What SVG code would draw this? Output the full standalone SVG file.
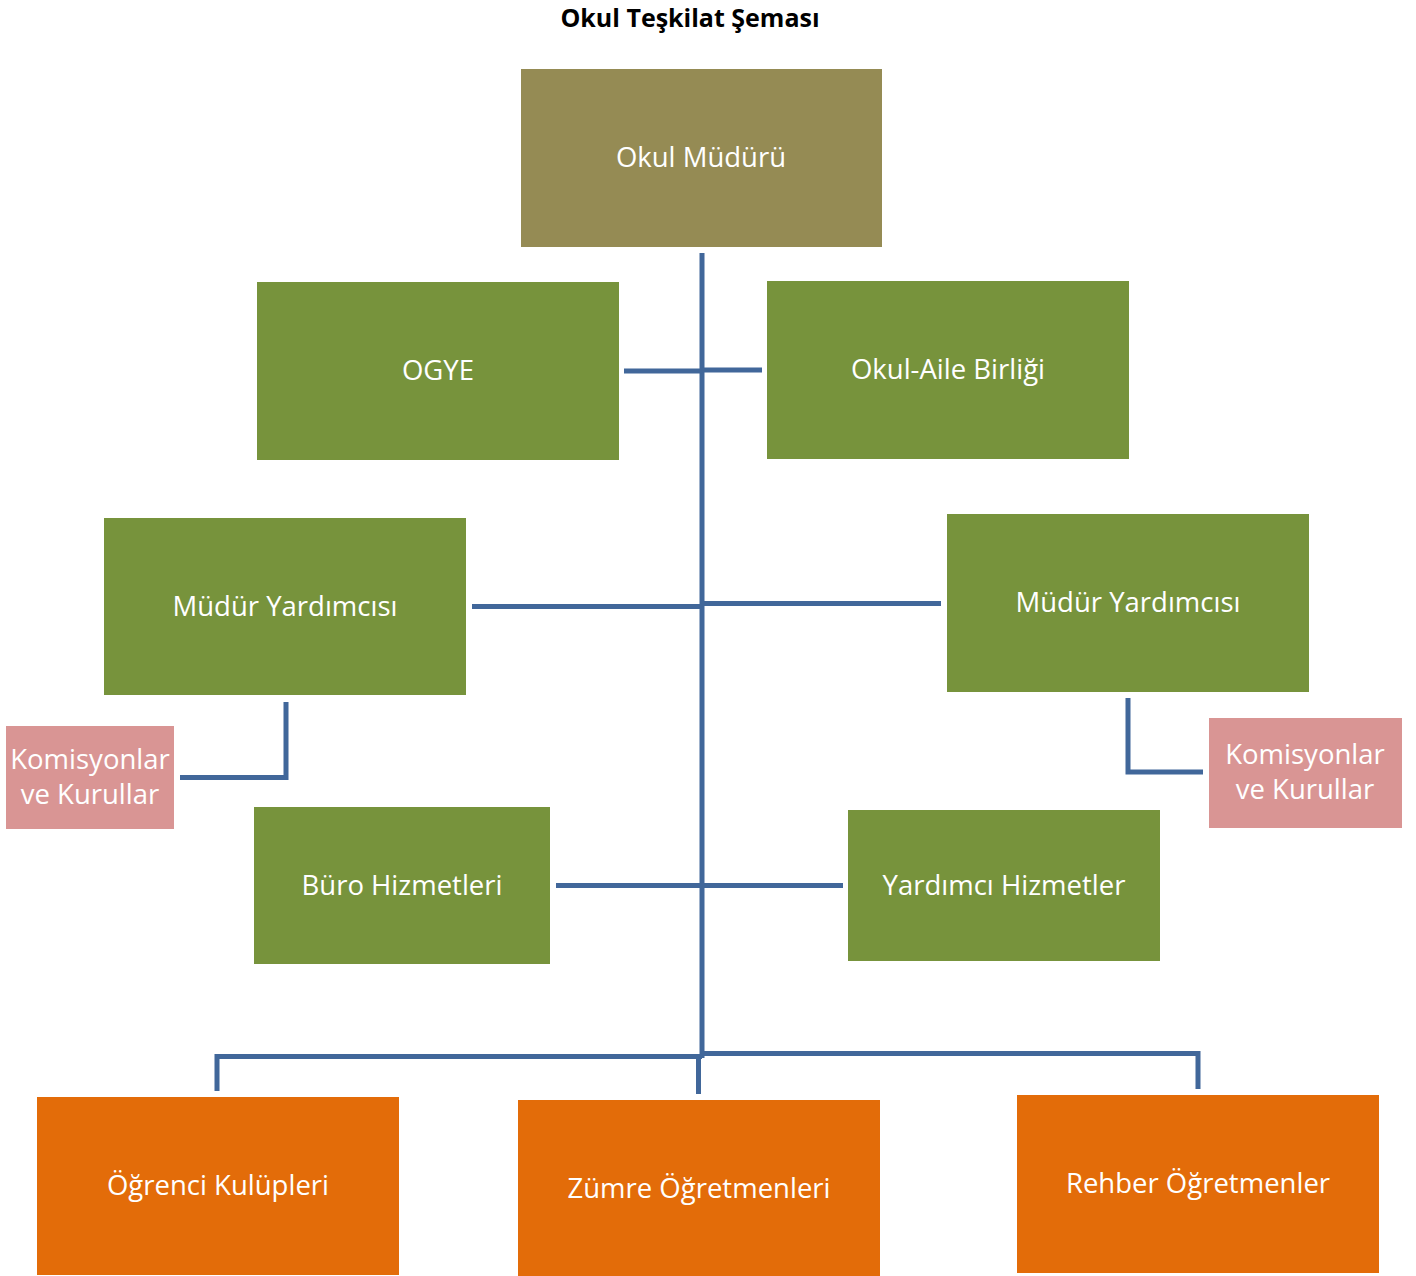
<svg xmlns="http://www.w3.org/2000/svg" width="1416" height="1276" viewBox="0 0 1416 1276">
<style>
.t{font-family:"Open Sans","Noto Sans","Liberation Sans",sans-serif;font-size:27.5px;fill:#fff;text-anchor:middle;dominant-baseline:central}
.title{font-family:"Open Sans","Noto Sans","Liberation Sans",sans-serif;font-size:25px;font-weight:bold;fill:#000;text-anchor:middle;dominant-baseline:central}
.olive{fill:#958B54}
.green{fill:#77933C}
.pink{fill:#D99594}
.orange{fill:#E36C09}
.c{stroke:#41679A;stroke-width:5;fill:none}
</style>
<rect width="1416" height="1276" fill="#fff"/>
<text class="title" x="690" y="17">Okul Teşkilat Şeması</text>
<g id="connectors">
<line class="c" x1="702" y1="253" x2="702" y2="1058"/>
<line class="c" x1="624" y1="371" x2="702" y2="371"/>
<line class="c" x1="702" y1="370" x2="762" y2="370"/>
<line class="c" x1="472" y1="606.5" x2="702" y2="606.5"/>
<line class="c" x1="702" y1="603.5" x2="941" y2="603.5"/>
<polyline class="c" points="286,702 286,777.5 180,777.5"/>
<polyline class="c" points="1128,698 1128,772 1203,772"/>
<line class="c" x1="556" y1="885.5" x2="843" y2="885.5"/>
<polyline class="c" points="217,1091 217,1056.5 702,1056.5"/>
<polyline class="c" points="702,1053.5 1198,1053.5 1198,1089"/>
<line class="c" x1="698.5" y1="1056" x2="698.5" y2="1094"/>
</g>
<g id="okul-muduru"><rect class="olive" x="521" y="69" width="361" height="178"/><text class="t" x="701" y="156">Okul Müdürü</text></g>
<g id="ogye"><rect class="green" x="257" y="282" width="362" height="178"/><text class="t" x="438" y="369">OGYE</text></g>
<g id="okul-aile"><rect class="green" x="767" y="281" width="362" height="178"/><text class="t" x="948" y="368">Okul-Aile Birliği</text></g>
<g id="mudur-yard-left"><rect class="green" x="104" y="518" width="362" height="177"/><text class="t" x="285" y="605">Müdür Yardımcısı</text></g>
<g id="mudur-yard-right"><rect class="green" x="947" y="514" width="362" height="178"/><text class="t" x="1128" y="601">Müdür Yardımcısı</text></g>
<g id="komisyon-left"><rect class="pink" x="6" y="726" width="168" height="103"/><text class="t" x="90" y="758">Komisyonlar</text><text class="t" x="90" y="793">ve Kurullar</text></g>
<g id="komisyon-right"><rect class="pink" x="1209" y="718" width="193" height="110"/><text class="t" x="1305" y="753">Komisyonlar</text><text class="t" x="1305" y="788">ve Kurullar</text></g>
<g id="buro"><rect class="green" x="254" y="807" width="296" height="157"/><text class="t" x="402" y="884">Büro Hizmetleri</text></g>
<g id="yardimci"><rect class="green" x="848" y="810" width="312" height="151"/><text class="t" x="1004" y="884">Yardımcı Hizmetler</text></g>
<g id="ogrenci"><rect class="orange" x="37" y="1097" width="362" height="178"/><text class="t" x="218" y="1184">Öğrenci Kulüpleri</text></g>
<g id="zumre"><rect class="orange" x="518" y="1100" width="362" height="176"/><text class="t" x="699" y="1187">Zümre Öğretmenleri</text></g>
<g id="rehber"><rect class="orange" x="1017" y="1095" width="362" height="178"/><text class="t" x="1198" y="1182">Rehber Öğretmenler</text></g>
</svg>
